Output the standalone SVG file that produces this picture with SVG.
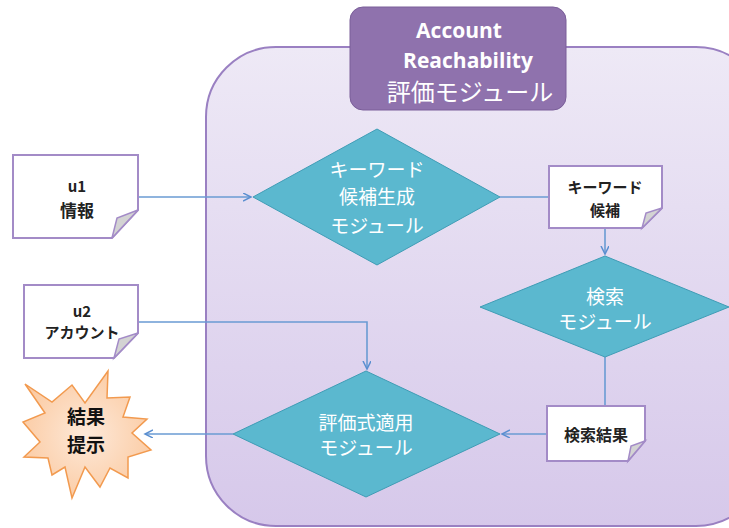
<svg xmlns="http://www.w3.org/2000/svg" width="729" height="528" viewBox="0 0 729 528">
<defs>
<linearGradient id="bg" x1="0" y1="0" x2="0" y2="1">
<stop offset="0" stop-color="#eee9f6"/>
<stop offset="1" stop-color="#d6c8ea"/>
</linearGradient>
<radialGradient id="starg" cx="0.5" cy="0.5" r="0.6">
<stop offset="0" stop-color="#fde9d9"/>
<stop offset="1" stop-color="#fbc89e"/>
</radialGradient>
<marker id="arr" markerWidth="10" markerHeight="10" refX="8" refY="4" orient="auto" markerUnits="userSpaceOnUse">
<path d="M0,0 L8,4 L0,8" fill="none" stroke="#5b8fd0" stroke-width="1.5"/>
</marker>
<style>
.conn{fill:none;stroke:#6a9bd3;stroke-width:1.6}
.dia{fill:#5bb8cf;stroke:#3f9cb5;stroke-width:1}
.doc{fill:#ffffff;stroke:#a38bc7;stroke-width:2}
.fold{fill:#d3d3d3;stroke:#a38bc7;stroke-width:1.5}
.wt{font-family:"Noto Sans CJK JP","Liberation Sans",sans-serif;font-size:19px;fill:#ffffff;text-anchor:middle}
.bt{font-family:"Noto Sans CJK JP","Liberation Sans",sans-serif;font-size:15px;font-weight:bold;fill:#222;text-anchor:middle}
.st{font-family:"Noto Sans CJK JP","Liberation Sans",sans-serif;font-size:19px;font-weight:bold;fill:#111;text-anchor:middle}
.tt{font-family:"Open Sans","Liberation Sans",sans-serif;font-size:21px;font-weight:bold;fill:#ffffff;text-anchor:middle}
</style>
</defs>
<rect width="729" height="528" fill="#ffffff"/>
<g id="container">
<rect x="206" y="47" width="560" height="479" rx="70" ry="70" fill="url(#bg)" stroke="#9a80c2" stroke-width="2"/>
</g>
<g id="title">
<rect x="350" y="7" width="216" height="103" rx="13" ry="13" fill="#8f72ad" stroke="#7a5e99" stroke-width="1"/>
<text class="tt" x="459" y="38">Account</text>
<text class="tt" x="468" y="68">Reachability</text>
<text class="wt" x="470" y="101" style="font-size:24px">評価モジュール</text>
</g>
<g id="connectors">
<path class="conn" d="M138,197 H251" marker-end="url(#arr)"/>
<path class="conn" d="M500,197 H549"/>
<path class="conn" d="M605,228 V254" marker-end="url(#arr)"/>
<path class="conn" d="M605,357 V406"/>
<path class="conn" d="M547,434 H502" marker-end="url(#arr)"/>
<path class="conn" d="M138,322 H367 V369" marker-end="url(#arr)"/>
<path class="conn" d="M233,434 H145" marker-end="url(#arr)"/>
</g>
<g id="u1">
<path class="doc" d="M13,155 H138 V210 L112,238 H13 Z"/>
<path class="fold" d="M138,210 L112,238 L117,218 Z"/>
<text class="bt" x="77" y="192">u1</text>
<text class="bt" x="77" y="217" style="font-size:17px">情報</text>
</g>
<g id="u2">
<path class="doc" d="M24,285 H138 V333 L114,358 H24 Z"/>
<path class="fold" d="M138,333 L114,358 L119,339 Z"/>
<text class="bt" x="82" y="317">u2</text>
<text class="bt" x="82" y="338">アカウント</text>
</g>
<g id="keyword-gen">
<polygon class="dia" points="377,129 500,197 377,265 253,197"/>
<text class="wt" x="377" y="177">キーワード</text>
<text class="wt" x="377" y="204">候補生成</text>
<text class="wt" x="377" y="233">モジュール</text>
</g>
<g id="keyword-cand">
<path class="doc" d="M549,166 H662 V208 L642,228 H549 Z"/>
<path class="fold" d="M662,208 L642,228 L646,213 Z"/>
<text class="bt" x="605" y="193">キーワード</text>
<text class="bt" x="605" y="216">候補</text>
</g>
<g id="search">
<polygon class="dia" points="605,256 729,307 605,357 480,307"/>
<text class="wt" x="605" y="304">検索</text>
<text class="wt" x="605" y="329">モジュール</text>
</g>
<g id="search-result">
<path class="doc" d="M547,406 H645 V441 L628,461 H547 Z"/>
<path class="fold" d="M645,441 L628,461 L631,446 Z"/>
<text class="bt" x="596" y="441" style="font-size:16px">検索結果</text>
</g>
<g id="eval">
<polygon class="dia" points="366,371 500,434 366,497 233,434"/>
<text class="wt" x="366" y="430">評価式適用</text>
<text class="wt" x="366" y="455">モジュール</text>
</g>
<g id="result">
<polygon points="25,384 52,402 72,385 85,403 108,371 107,398 130,397 123,417 147,419 132,433 151,450 128,457 128,478 110,468 100,487 85,467 72,498 65,467 52,475 48,458 24,457 40,442 23,422 45,413" fill="url(#starg)" stroke="#f29a4f" stroke-width="1.5" stroke-linejoin="miter"/>
<text class="st" x="86" y="424">結果</text>
<text class="st" x="86" y="452">提示</text>
</g>
</svg>
